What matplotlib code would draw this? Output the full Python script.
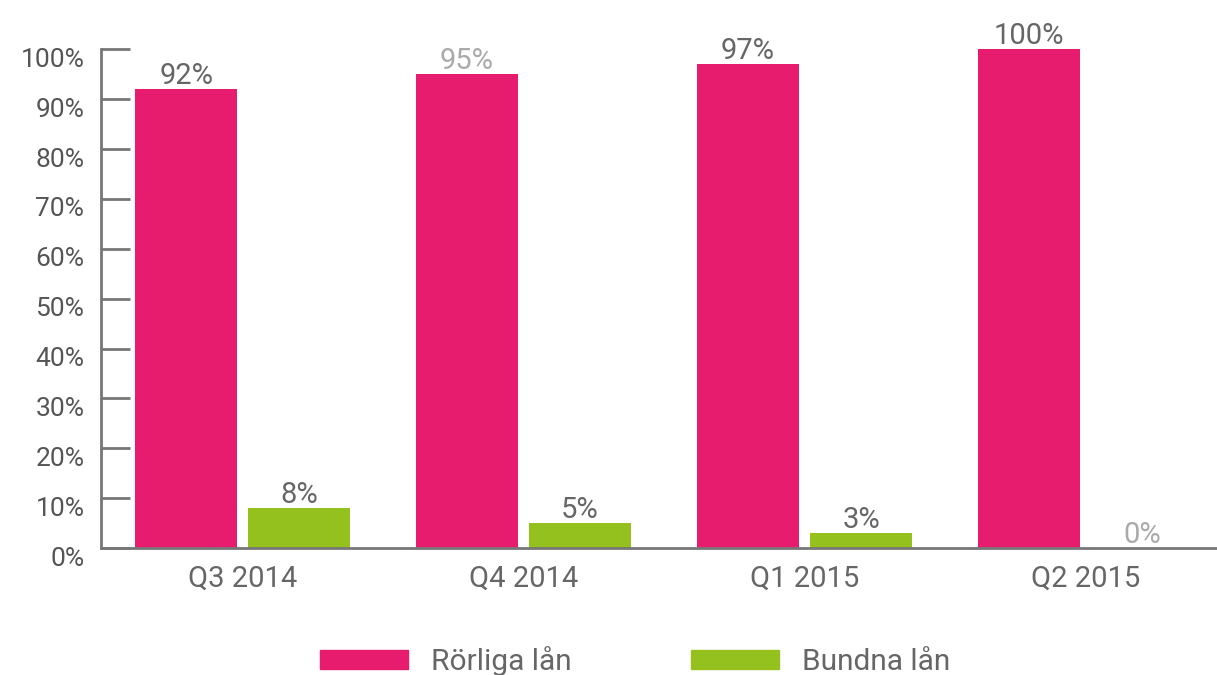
import numpy as np
import matplotlib.pyplot as plt
from matplotlib.transforms import ScaledTranslation
from matplotlib.patches import Patch

plt.rcParams['font.family'] = ['Roboto', 'DejaVu Sans']

# Data
quarters = ['Q3 2014', 'Q4 2014', 'Q1 2015', 'Q2 2015']
rorliga = [92, 95, 97, 100]
bundna = [8, 5, 3, 0]
series_names = ['Rörliga lån', 'Bundna lån']
yticks = [0, 10, 20, 30, 40, 50, 60, 70, 80, 90, 100]

# label colours (some labels appear faded in the original)
rorliga_lbl_colors = ['#666666', '#aaaaaa', '#666666', '#666666']
bundna_lbl_colors = ['#666666', '#666666', '#666666', '#aaaaaa']

red = '#e81c6e'
green = '#95c11f'
axis_grey = '#777777'

fig = plt.figure(figsize=(12.17, 6.75), dpi=100)
ax = fig.add_axes([0.083, 0.188, 0.917, 0.739])

x = np.arange(len(quarters))
w = 0.363
off = 0.201

b1 = ax.bar(x - off, rorliga, w, color=red)
b2 = ax.bar(x + off, bundna, w, color=green)

# value labels above bars
for bars, vals, cols in [(b1, rorliga, rorliga_lbl_colors), (b2, bundna, bundna_lbl_colors)]:
    for rect, v, c in zip(bars, vals, cols):
        ax.annotate(f'{v}%', (rect.get_x() + rect.get_width() / 2, v),
                    xytext=(0, 4), textcoords='offset points',
                    ha='center', va='baseline', fontsize=21, color=c)

ax.set_xlim(-0.504, 3.468)
ax.set_ylim(0, 100)

ax.set_yticks(yticks)
ax.set_yticklabels([f'{t}%' for t in yticks])
ax.set_xticks(x)
ax.set_xticklabels(quarters)

ax.tick_params(axis='y', direction='in', length=21, width=2, color=axis_grey,
               labelsize=19, labelcolor='#555555', pad=12)
ax.tick_params(axis='x', length=0, labelsize=21, labelcolor='#666666', pad=12)

# y labels sit slightly below their ticks in the original
for lbl in ax.get_yticklabels():
    lbl.set_transform(lbl.get_transform() + ScaledTranslation(0, -0.08, fig.dpi_scale_trans))

for s in ['top', 'right']:
    ax.spines[s].set_visible(False)
for s in ['left', 'bottom']:
    ax.spines[s].set_color(axis_grey)
    ax.spines[s].set_linewidth(2)

handles = [Patch(color=red, label=series_names[0]), Patch(color=green, label=series_names[1])]
leg = fig.legend(handles=handles, loc='center', bbox_to_anchor=(0.522, 0.02), ncol=2,
                 frameon=False, fontsize=21.5, handlelength=2.95, handleheight=0.6,
                 handletextpad=0.77, columnspacing=4.0, borderpad=0)
for t in leg.get_texts():
    t.set_color('#666666')

fig.savefig('out.png', dpi=100)
